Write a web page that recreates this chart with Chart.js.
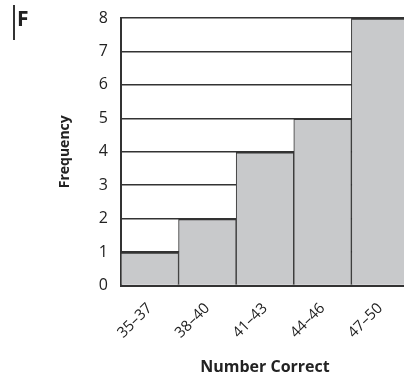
<!DOCTYPE html>
<html>
<head>
<meta charset="utf-8">
<script src="https://cdn.jsdelivr.net/npm/chart.js@4"></script>
<style>
  html, body { margin: 0; padding: 0; background: #fff; overflow: hidden; }
  #wrap { position: relative; width: 412px; height: 382px; overflow: hidden; }
  #hist { margin-top: -3px; display: block; }
  #tag { position: absolute; left: 13px; top: 5px; height: 35px; border-left: 2px solid #333;
         padding-left: 2px; font: bold 21px 'Open Sans', sans-serif; color: #222; line-height: 26px; z-index: 1; }
</style>
</head>
<body>
<div id="wrap">
  <div id="tag">F</div>
  <canvas id="hist" width="412" height="385"></canvas>
</div>
<script>
  // score bins and how many students fell in each
  const bins = ['35–37', '38–40', '41–43', '44–46', '47–50'];
  const counts = [1, 2, 4, 5, 8];
  const yTicks = [0, 1, 2, 3, 4, 5, 6, 7, 8];

  const font = "'Open Sans', sans-serif";

  const histCanvas = document.querySelector('#hist');
  const histChart = new Chart(histCanvas, {
    type: 'bar',
    data: {
      labels: bins,
      datasets: [{
        label: 'Frequency',
        data: counts,
        backgroundColor: '#c8c9cb',
        borderColor: '#333',
        borderWidth: { top: 2, left: 1, right: 1, bottom: 0 },
        borderSkipped: false,
        barPercentage: 1,
        categoryPercentage: 1,
      }],
    },
    options: {
      responsive: false,
      animation: false,
      layout: { padding: { top: 0, right: 3, left: 53, bottom: 5 } },
      plugins: { legend: { display: false }, tooltip: { enabled: false } },
      scales: {
        x: {
          grid: { display: false, drawTicks: false },
          border: { display: true, color: '#333', width: 2 },
          ticks: { color: '#222', font: { family: font, size: 15 }, minRotation: 45, maxRotation: 45, padding: 14 },
          title: { display: true, text: 'Number Correct', color: '#222', font: { family: font, size: 16, weight: 'bold' }, padding: { top: 2, bottom: 0 } },
        },
        y: {
          min: yTicks[0],
          max: yTicks[yTicks.length - 1],
          grid: { color: '#333', lineWidth: 1.5, drawTicks: false },
          border: { display: true, color: '#333', width: 2 },
          afterBuildTicks: (axis) => { axis.ticks = yTicks.map(v => ({ value: v })); },
          ticks: { color: '#222', font: { family: font, size: 16, lineHeight: 1 }, padding: 13 },
          title: { display: true, text: 'Frequency', color: '#222', font: { family: font, size: 14, weight: 'bold' }, padding: { top: 4, bottom: 12 } },
        },
      },
    },
  });
</script>
</body>
</html>
